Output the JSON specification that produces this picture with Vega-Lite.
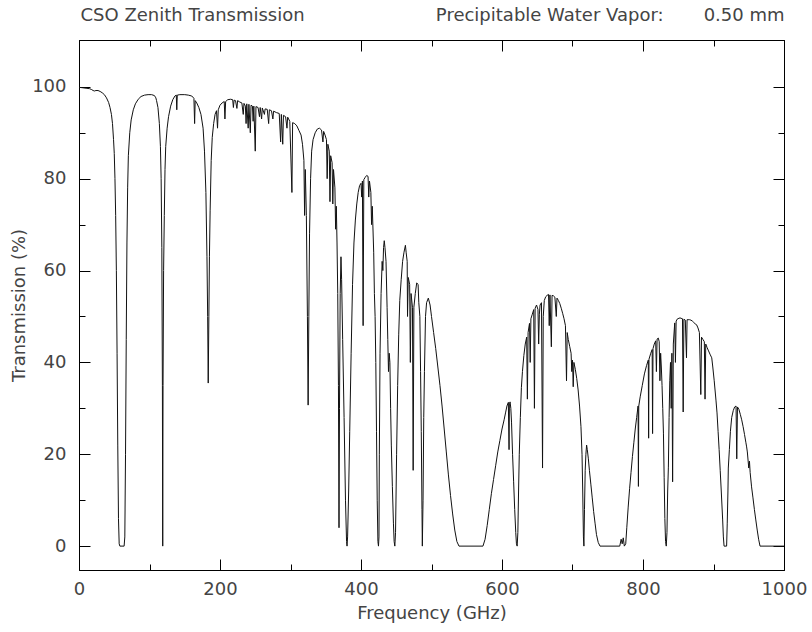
{
"$schema":"https://vega.github.io/schema/vega-lite/v6.json",
"width":705,"height":530,
"autosize":{"type":"none"},
"padding":{"left":79,"top":40,"right":28,"bottom":62},
"background":"white",
"config":{"view":{"stroke":"#000","strokeWidth":1},
 "axis":{"grid":false,"domainColor":"#000","tickColor":"#000","labelColor":"#444","titleColor":"#444","labelFont":"DejaVu Sans","titleFont":"DejaVu Sans","labelFontSize":18,"titleFontSize":18,"titleFontWeight":"normal"}},
"data":{"values":[
{"f":0,"t":99.9},{"f":5,"t":99.8},{"f":10,"t":99.7},{"f":15,"t":99.6},{"f":18,"t":99.4},{"f":20,"t":99.2},{"f":22,"t":99.1},{"f":24,"t":99.2},{"f":27,"t":99.2},{"f":30,"t":99.0},{"f":33,"t":98.7},{"f":36,"t":98.3},{"f":39,"t":97.6},{"f":42,"t":96.6},{"f":44,"t":95.5},{"f":46,"t":94},{"f":47.5,"t":92},{"f":49,"t":88.5},{"f":50,"t":85.5},{"f":51,"t":80},{"f":52,"t":72},{"f":53,"t":60},{"f":54,"t":42},{"f":55,"t":22},{"f":56,"t":6},{"f":57,"t":0.5},{"f":58,"t":0},{"f":64,"t":0},{"f":65,"t":2},{"f":66,"t":20},{"f":67,"t":45},{"f":68,"t":66},{"f":69,"t":78},{"f":70,"t":85},{"f":72,"t":90},{"f":74,"t":92.8},{"f":77,"t":95},{"f":80,"t":96.3},{"f":84,"t":97.3},{"f":88,"t":97.9},{"f":93,"t":98.2},{"f":98,"t":98.3},{"f":103,"t":98.3},{"f":107,"t":98.1},{"f":109,"t":97.6},{"f":110,"t":97},{"f":112,"t":95.5},{"f":114,"t":92},{"f":115.5,"t":87},{"f":116.5,"t":80},{"f":117.5,"t":65},{"f":118.3,"t":35},{"f":118.75,"t":0},{"f":119.2,"t":35},{"f":120,"t":60},{"f":121,"t":72},{"f":122,"t":82},{"f":123,"t":87},{"f":125,"t":91},{"f":127,"t":93.5},{"f":130,"t":95.8},{"f":133,"t":97.2},{"f":136,"t":98},{"f":138,"t":98.2},{"f":138.7,"t":95},{"f":139.4,"t":98.2},{"f":143,"t":98.3},{"f":150,"t":98.3},{"f":155,"t":98.2},{"f":160,"t":98},{"f":163,"t":97.5},{"f":164,"t":92},{"f":164.8,"t":97},{"f":167,"t":96.5},{"f":170,"t":95.5},{"f":173,"t":94},{"f":176,"t":91},{"f":178,"t":86},{"f":180,"t":77},{"f":181.5,"t":63},{"f":182.5,"t":50},{"f":183.3,"t":35.5},{"f":184.2,"t":50},{"f":185,"t":63},{"f":186,"t":73},{"f":187.5,"t":84},{"f":189,"t":89},{"f":191,"t":92},{"f":193,"t":94},{"f":195,"t":94.8},{"f":196.5,"t":91},{"f":197.5,"t":95},{"f":200,"t":96},{"f":203,"t":96.5},{"f":206,"t":96.8},{"f":207,"t":93},{"f":208,"t":96.8},{"f":211,"t":97.2},{"f":215,"t":97.3},{"f":218,"t":97.2},{"f":219,"t":95.5},{"f":220,"t":97.1},{"f":222,"t":97},{"f":224,"t":95.3},{"f":225,"t":97},{"f":228,"t":96.7},{"f":231,"t":96.5},{"f":233,"t":94},{"f":234,"t":96.4},{"f":236,"t":95.8},{"f":237,"t":92},{"f":238,"t":96.3},{"f":240,"t":91},{"f":241,"t":96.2},{"f":243,"t":90},{"f":244,"t":96},{"f":246,"t":95.8},{"f":247,"t":92.5},{"f":248,"t":95.8},{"f":250,"t":86},{"f":251,"t":95.7},{"f":254,"t":95.5},{"f":256,"t":93.5},{"f":257,"t":95.5},{"f":259,"t":93},{"f":260,"t":95.4},{"f":263,"t":94},{"f":264,"t":95.2},{"f":267,"t":95.1},{"f":269,"t":92},{"f":270,"t":95},{"f":273,"t":94.8},{"f":275,"t":93},{"f":276,"t":94.7},{"f":280,"t":94.4},{"f":284,"t":94.2},{"f":286,"t":88},{"f":287,"t":94},{"f":289,"t":87.5},{"f":290,"t":93.8},{"f":293,"t":93.5},{"f":295,"t":91},{"f":296,"t":93.4},{"f":299,"t":92.5},{"f":302,"t":77},{"f":303,"t":92.2},{"f":306,"t":92},{"f":309,"t":91.5},{"f":312,"t":90.5},{"f":315,"t":89.5},{"f":317,"t":87.5},{"f":319,"t":84},{"f":320,"t":72},{"f":321,"t":82},{"f":322.5,"t":72},{"f":324,"t":50},{"f":325,"t":30.7},{"f":326,"t":50},{"f":327,"t":68},{"f":328.5,"t":80},{"f":330,"t":86},{"f":332,"t":88.5},{"f":335,"t":90},{"f":338,"t":90.8},{"f":341,"t":91},{"f":344,"t":90.6},{"f":346,"t":88},{"f":347,"t":90.3},{"f":349,"t":89.5},{"f":351,"t":88.5},{"f":352,"t":80},{"f":353,"t":87.5},{"f":355,"t":86},{"f":356,"t":75},{"f":357,"t":85},{"f":359,"t":83.5},{"f":360,"t":74.5},{"f":361,"t":82},{"f":363,"t":78},{"f":364,"t":69},{"f":365,"t":74},{"f":366,"t":66},{"f":367,"t":55},{"f":368,"t":35},{"f":368.8,"t":4},{"f":369.5,"t":30},{"f":370.5,"t":55},{"f":371.6,"t":63},{"f":372.5,"t":58},{"f":374,"t":45},{"f":376,"t":28},{"f":378,"t":10},{"f":379.5,"t":1},{"f":380.2,"t":0},{"f":381,"t":2},{"f":382.5,"t":12},{"f":384,"t":25},{"f":386,"t":42},{"f":388,"t":57},{"f":390,"t":66},{"f":392,"t":71},{"f":394,"t":74.5},{"f":396,"t":77},{"f":398,"t":78.5},{"f":400,"t":79},{"f":401,"t":76},{"f":402,"t":79.5},{"f":403,"t":48},{"f":404,"t":79.8},{"f":406,"t":80.3},{"f":408,"t":80.7},{"f":410,"t":80.5},{"f":411,"t":76},{"f":412,"t":79.5},{"f":414,"t":77},{"f":415,"t":70},{"f":416,"t":74},{"f":418,"t":64},{"f":419,"t":55},{"f":420,"t":50},{"f":421,"t":40},{"f":422,"t":25},{"f":423,"t":10},{"f":424,"t":1},{"f":424.8,"t":0},{"f":425.5,"t":2},{"f":426,"t":20},{"f":427,"t":42},{"f":428.5,"t":55},{"f":430,"t":62},{"f":431,"t":60},{"f":432,"t":65},{"f":433,"t":66.5},{"f":434,"t":65},{"f":435.5,"t":62},{"f":437,"t":52},{"f":438,"t":45},{"f":439,"t":38},{"f":440,"t":42},{"f":441,"t":40},{"f":442,"t":30},{"f":443,"t":22},{"f":444.5,"t":13},{"f":446,"t":5},{"f":447,"t":1},{"f":448,"t":0},{"f":449,"t":3},{"f":450.5,"t":20},{"f":452,"t":35},{"f":453.5,"t":46},{"f":455,"t":53.5},{"f":457,"t":58},{"f":459,"t":62},{"f":461,"t":64},{"f":463,"t":65.5},{"f":464,"t":64},{"f":465.5,"t":62},{"f":466,"t":50},{"f":467,"t":58.5},{"f":469,"t":57},{"f":470,"t":40},{"f":471,"t":55},{"f":473,"t":52},{"f":474,"t":16.5},{"f":475,"t":52},{"f":477,"t":55},{"f":479,"t":57.3},{"f":481,"t":57},{"f":482,"t":53},{"f":483.5,"t":50},{"f":484.5,"t":38},{"f":485.5,"t":25},{"f":486.5,"t":8},{"f":487,"t":0},{"f":488,"t":10},{"f":489,"t":28},{"f":490,"t":38},{"f":491.5,"t":50},{"f":493,"t":53},{"f":495.5,"t":54},{"f":498,"t":52.5},{"f":500,"t":50},{"f":503,"t":46.5},{"f":506,"t":43},{"f":509,"t":39},{"f":512,"t":35},{"f":515,"t":30.5},{"f":518,"t":25.5},{"f":521,"t":20.5},{"f":524,"t":15.5},{"f":527,"t":11},{"f":530,"t":7},{"f":533,"t":3.5},{"f":536,"t":1},{"f":539,"t":0},{"f":573,"t":0},{"f":576,"t":1.5},{"f":579,"t":4.5},{"f":582,"t":8},{"f":585,"t":11.5},{"f":588,"t":14.5},{"f":591,"t":17.5},{"f":594,"t":20.5},{"f":597,"t":23},{"f":600,"t":25.5},{"f":603,"t":27.5},{"f":605,"t":29},{"f":607,"t":30.5},{"f":609,"t":31.3},{"f":610,"t":21},{"f":610.5,"t":31},{"f":611.5,"t":31.4},{"f":612.5,"t":30},{"f":613.5,"t":27},{"f":615,"t":20},{"f":616.5,"t":14},{"f":618,"t":8},{"f":619.5,"t":3},{"f":620.5,"t":0.5},{"f":621.5,"t":0},{"f":622.5,"t":3},{"f":623.5,"t":12},{"f":624.5,"t":20},{"f":626,"t":28},{"f":627.5,"t":34.5},{"f":629,"t":38},{"f":631,"t":41.5},{"f":633,"t":44},{"f":635,"t":45.5},{"f":636,"t":32},{"f":637,"t":46.5},{"f":639,"t":48.5},{"f":640,"t":40},{"f":641,"t":49.5},{"f":643,"t":50.5},{"f":645,"t":51.5},{"f":646,"t":30},{"f":647,"t":51.8},{"f":649,"t":52.5},{"f":651,"t":51.5},{"f":652,"t":44},{"f":653,"t":50.5},{"f":654,"t":52.5},{"f":656,"t":53},{"f":657.5,"t":17},{"f":658.5,"t":50},{"f":660,"t":53.5},{"f":662,"t":54.3},{"f":664,"t":54.6},{"f":666,"t":54.8},{"f":667,"t":48},{"f":668,"t":54.7},{"f":670,"t":43.4},{"f":671,"t":54.6},{"f":673,"t":54.5},{"f":675,"t":54.2},{"f":677,"t":50},{"f":678,"t":54},{"f":680,"t":53.5},{"f":682,"t":52.8},{"f":684,"t":51.8},{"f":686,"t":50.7},{"f":688,"t":49.5},{"f":690,"t":48},{"f":691.5,"t":36},{"f":692.5,"t":46.5},{"f":694,"t":45},{"f":696,"t":43.5},{"f":698,"t":42},{"f":699,"t":38},{"f":700,"t":40.5},{"f":701,"t":34.7},{"f":702,"t":40},{"f":704,"t":38.5},{"f":706,"t":36.5},{"f":708,"t":34},{"f":710,"t":30.5},{"f":712,"t":26},{"f":713.5,"t":20},{"f":714.5,"t":12},{"f":715.5,"t":2},{"f":716.2,"t":0},{"f":717,"t":8},{"f":718,"t":16.5},{"f":719,"t":20},{"f":720,"t":22},{"f":721,"t":21},{"f":722.5,"t":19},{"f":724,"t":16.5},{"f":726,"t":13.5},{"f":728,"t":10.5},{"f":730,"t":7.5},{"f":732,"t":5},{"f":734,"t":2.5},{"f":736.5,"t":0.8},{"f":739,"t":0},{"f":767,"t":0},{"f":769,"t":1.5},{"f":770.5,"t":0.5},{"f":772,"t":1.8},{"f":773.5,"t":0},{"f":775.5,"t":0.5},{"f":777,"t":4},{"f":779,"t":8.5},{"f":781,"t":12.5},{"f":783,"t":16},{"f":785,"t":19.5},{"f":787,"t":22.5},{"f":789,"t":25.5},{"f":791,"t":28},{"f":793,"t":30.5},{"f":793.5,"t":13},{"f":794,"t":30.5},{"f":796,"t":32.5},{"f":799,"t":35},{"f":802,"t":37.5},{"f":805,"t":39.3},{"f":807.5,"t":40.5},{"f":808,"t":23.5},{"f":808.5,"t":40.7},{"f":811,"t":42},{"f":813,"t":42.8},{"f":813.6,"t":24.5},{"f":814.2,"t":43},{"f":816,"t":44},{"f":818,"t":44.7},{"f":819,"t":38},{"f":820,"t":45.1},{"f":821.7,"t":45.3},{"f":823,"t":44.5},{"f":824,"t":36},{"f":825,"t":42},{"f":826,"t":39},{"f":827,"t":35},{"f":828,"t":30},{"f":829,"t":24.6},{"f":830,"t":15},{"f":831,"t":6},{"f":832,"t":1},{"f":833,"t":0},{"f":834,"t":3},{"f":835,"t":12},{"f":836,"t":17.2},{"f":837,"t":28},{"f":838,"t":36},{"f":839,"t":40},{"f":840,"t":30},{"f":841,"t":42},{"f":842,"t":14},{"f":843,"t":44},{"f":845,"t":48.6},{"f":846,"t":40},{"f":847,"t":49},{"f":849,"t":49.5},{"f":851,"t":49.6},{"f":852.5,"t":49.7},{"f":854,"t":49.6},{"f":856,"t":49.5},{"f":857,"t":29.2},{"f":858,"t":49.4},{"f":860,"t":49.2},{"f":861.7,"t":41},{"f":862.5,"t":49.3},{"f":864,"t":49.3},{"f":866,"t":49.3},{"f":868,"t":49.2},{"f":870,"t":49},{"f":872,"t":48.7},{"f":874,"t":48.4},{"f":876,"t":48.2},{"f":878,"t":47.5},{"f":880,"t":46.5},{"f":882,"t":33},{"f":883,"t":45.5},{"f":885,"t":45},{"f":887,"t":44.5},{"f":888,"t":32},{"f":889,"t":44},{"f":891,"t":43.2},{"f":893,"t":42.5},{"f":895,"t":41.8},{"f":897.5,"t":41},{"f":899,"t":39},{"f":901,"t":36},{"f":903.5,"t":31.8},{"f":905,"t":29},{"f":906.5,"t":25},{"f":908,"t":21},{"f":909.5,"t":16.5},{"f":911,"t":12},{"f":913,"t":5.7},{"f":914,"t":2},{"f":915,"t":0},{"f":918.6,"t":0},{"f":919.5,"t":5},{"f":920.5,"t":12},{"f":921,"t":17},{"f":922.5,"t":21},{"f":924,"t":25},{"f":925.8,"t":28},{"f":928,"t":29.5},{"f":930,"t":30.3},{"f":932,"t":30.5},{"f":933,"t":19},{"f":934,"t":30.3},{"f":936,"t":29.8},{"f":938,"t":28.7},{"f":940,"t":27.5},{"f":942,"t":26},{"f":944,"t":24.3},{"f":946,"t":22.5},{"f":947,"t":21.6},{"f":948,"t":20.5},{"f":950,"t":17},{"f":951,"t":18.5},{"f":952,"t":16},{"f":954,"t":12.9},{"f":956,"t":10.5},{"f":958,"t":8},{"f":960,"t":5.7},{"f":962,"t":3.5},{"f":964,"t":1.5},{"f":966,"t":0},{"f":1000,"t":0}
]},
"layer":[
{"mark":{"type":"line","stroke":"#111","strokeWidth":1,"clip":true},
 "encoding":{
  "x":{"field":"f","type":"quantitative","scale":{"domain":[0,1000],"nice":false,"zero":false},
   "axis":{"orient":"bottom","title":"Frequency (GHz)","values":[0,100,200,300,400,500,600,700,800,900,1000],
    "labelExpr":"datum.value % 200 === 0 ? datum.label : ''","format":"d",
    "tickSize":{"condition":{"test":"datum.value % 200 === 0","value":-11},"value":-6},
    "labelPadding":21,"titlePadding":1,"labelFlush":false,"labelOverlap":false}},
  "y":{"field":"t","type":"quantitative","scale":{"domain":[-5.2,110.2],"nice":false,"zero":false},
   "axis":{"orient":"left","title":"Transmission (%)","values":[0,10,20,30,40,50,60,70,80,90,100],
    "labelExpr":"datum.value % 20 === 0 ? datum.label : ''","format":"d",
    "tickSize":{"condition":{"test":"datum.value % 20 === 0","value":-11},"value":-6},
    "labelPadding":24,"titlePadding":3,"labelOverlap":false}}}},
{"mark":{"type":"line","strokeOpacity":0},
 "encoding":{
  "x":{"field":"f","type":"quantitative",
   "axis":{"orient":"top","labels":false,"values":[0,100,200,300,400,500,600,700,800,900,1000],
    "tickSize":{"condition":{"test":"datum.value % 200 === 0","value":-11},"value":-6},
    "title":"CSO Zenith Transmission","titleX":1,"titleY":-20,"titleAlign":"left","titleAngle":0,"titleBaseline":"alphabetic","titleAnchor":"start"}},
  "y":{"field":"t","type":"quantitative",
   "axis":{"orient":"right","labels":false,"values":[0,10,20,30,40,50,60,70,80,90,100],
    "tickSize":{"condition":{"test":"datum.value % 20 === 0","value":-11},"value":-6},
    "title":"Precipitable Water Vapor:\u00a0\u00a0\u00a0\u00a0\u00a0\u00a0 0.50 mm","titleX":0,"titleY":-20,"titleAlign":"right","titleAngle":0,"titleBaseline":"alphabetic"}}}}
],
"resolve":{"axis":{"x":"independent","y":"independent"}}
}
